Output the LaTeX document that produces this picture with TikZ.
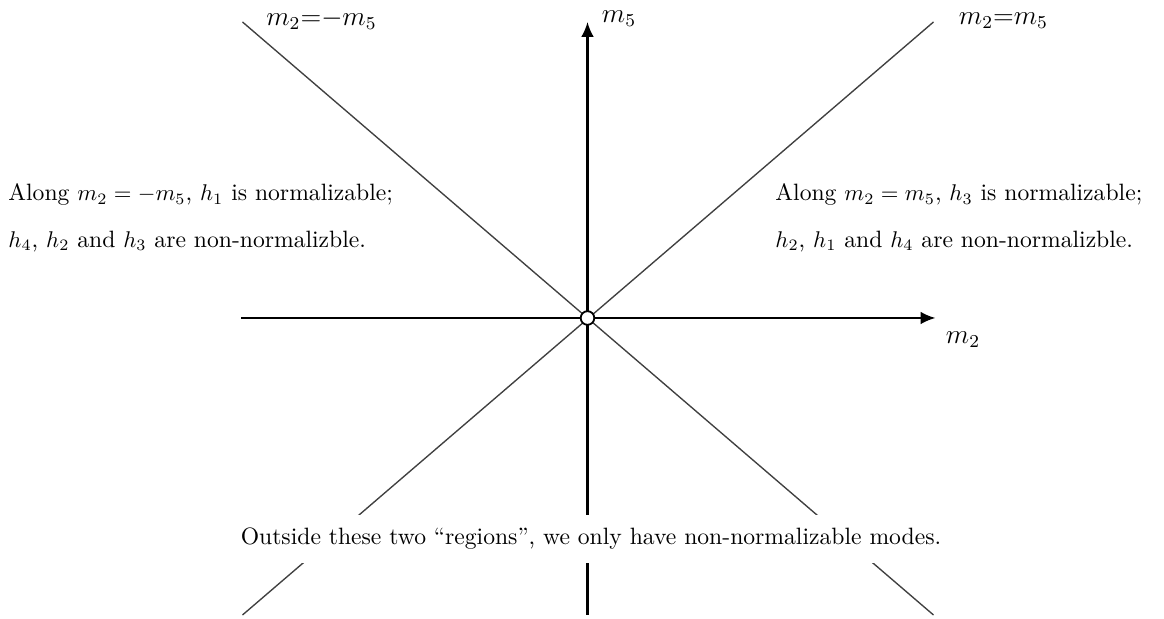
\documentclass[tikz,border=0pt]{standalone}
\usepackage{amsmath,amsfonts,amssymb}
\usepackage{tikz}
\usetikzlibrary{arrows.meta,positioning}

\begin{document}
\begin{tikzpicture}[x=0.44pt,y=0.44pt,
  axis/.style={draw=black,line width=0.9pt,-{Latex[length=6.5pt,width=5.5pt]}},
  diag/.style={draw=black!75,line width=0.6pt},
  lbl/.style={draw=none,fill=none,font=\large},
  note/.style={draw=none,fill=none,align=left,font=\fontsize{10.4}{12.5}\selectfont},
  origin/.style={circle,draw=black,fill=white,line width=0.8pt,minimum size=6pt,inner sep=0pt}]

  \useasboundingbox (-587.5,-301) rectangle (576.5,318);

  % Axes
  \coordinate (xl) at (-346,0);
  \coordinate (xr) at (348,0);
  \coordinate (yb) at (0,-297);
  \coordinate (yt) at (0,296);

  % Diagonals
  \coordinate (nw) at (-345,296);
  \coordinate (se) at (346,-297);
  \coordinate (sw) at (-345,-297);
  \coordinate (ne) at (346,296);

  \draw[diag] (nw) -- (se);
  \draw[diag] (sw) -- (ne);
  \draw[axis] (xl) -- (xr);
  \draw[axis] (yb) -- (yt);

  \node[origin] (o) at (0,0) {};

  % Axis and line labels
  \node[lbl] (m5) at (31.5,299) {$m_5$};
  \node[lbl] (m2) at (375.5,-22) {$m_2$};
  \node[lbl] (anti) at (-266,298) {$m_2{=}{-}m_5$};
  \node[lbl] (diagon) at (416,297) {$m_2{=}m_5$};

  % Notes
  \node[note,anchor=west,inner xsep=0pt] (left) at (-579.5,100)
    {Along $m_2=-m_5$, $h_1$ is normalizable;\\[8pt]
     $h_4$, $h_2$ and $h_3$ are non-normalizble.};
  \node[note,anchor=west,inner xsep=0pt] (right) at (187.5,100)
    {Along $m_2=m_5$, $h_3$ is normalizable;\\[8pt]
     $h_2$, $h_1$ and $h_4$ are non-normalizble.};
  \node[note,fill=white,inner xsep=2pt,inner ysep=6pt] (outside) at (3.5,-221)
    {Outside these two ``regions'', we only have non-normalizable modes.};
\end{tikzpicture}
\end{document}
